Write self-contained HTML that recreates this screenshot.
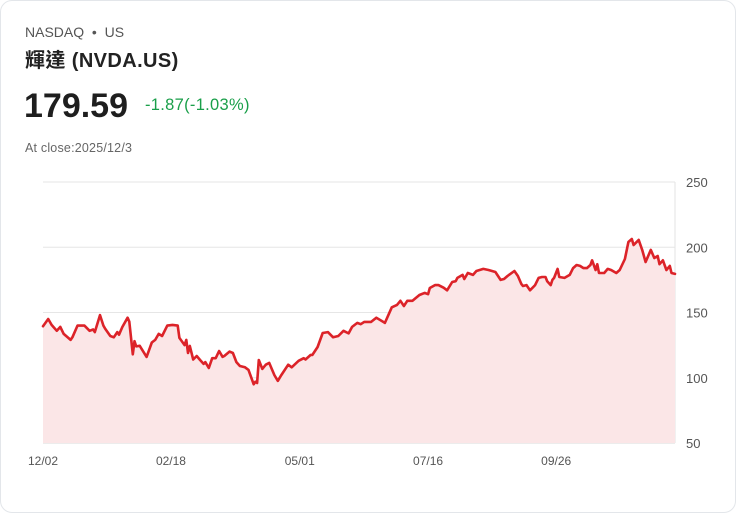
<!DOCTYPE html>
<html><head><meta charset="utf-8"><style>
*{margin:0;padding:0;box-sizing:border-box}
body{width:736px;height:513px;background:#fff;font-family:"Liberation Sans","Noto Sans CJK TC",sans-serif;position:relative;overflow:hidden}
.card{position:absolute;left:0;top:0;width:736px;height:513px;border:1px solid #e3e6ea;border-radius:12px}
.t{position:absolute;white-space:nowrap}
</style></head><body>
<div class="card"></div>
<div class="t" style="left:25px;top:24px;font-size:14px;color:#555">NASDAQ &nbsp;•&nbsp; US</div>
<div class="t" style="left:25px;top:44px;font-size:20px;font-weight:bold;color:#222;letter-spacing:0.4px">輝達 (NVDA.US)</div>
<div class="t" style="left:24px;top:87px;font-size:34px;font-weight:bold;color:#1e1e1e">179.59</div>
<div class="t" style="left:145px;top:96px;font-size:16.5px;color:#1a9f4a;letter-spacing:0.3px">-1.87(-1.03%)</div>
<div class="t" style="left:25px;top:141px;font-size:12.5px;color:#666;letter-spacing:0.2px">At close:2025/12/3</div>
<svg id="chart" width="736" height="513" style="position:absolute;left:0;top:0"></svg>
<script>
const days=[0,3,5,8,10,12,16,17,20,24,27,29,30,33,35,36,39,41,43,44,46,49,50,52,53,54,56,60,63,65,67,69,72,75,78,79,82,83,84,85,87,89,91,93,94,96,98,100,102,104,105,108,110,112,114,117,119,122,123,124,125,127,129,131,134,136,138,142,144,148,151,152,155,156,159,162,165,168,171,174,177,179,182,184,186,190,193,198,202,205,207,209,211,214,218,221,223,224,227,229,232,234,237,239,240,243,244,246,249,251,255,258,260,262,265,267,269,273,275,277,278,280,282,285,287,289,291,292,294,295,296,298,299,302,305,307,309,311,313,315,317,318,320,321,322,325,327,329,332,334,337,339,341,342,345,347,349,352,354,356,357,359,361,363,364,366];
const prices=[139.5,145,140.5,136,139,133.6,129,131,140,140,136,137,135,148,140,137.5,132,131,135,133,139,146,143,118,128,124,124.5,116,127,129,133.6,132,140,140.5,140,130.5,125,129,119,124.4,114,116.7,113.6,110.6,112,107.5,115,115,120.5,116,116.7,120,119,112,109,108,106,95,97,96,113.6,106.8,110,111.4,102,97.6,102,110,108,113,115,114,117.5,117.5,123.6,134.3,135,131,132,136,134,139,142,141,142.8,142.8,146,142,154,155.8,159,155,159,159,163.4,165,164,168.8,171,171,169,167,173.4,174,176.5,178.8,175.7,180.3,178.8,181.8,183.4,182.6,181.8,181,175,175.7,178,181.8,178,171.9,170.3,171,167,171,176.5,177.2,177.2,174,171,175,176.5,183.4,177.2,176.5,178.8,184,186.4,185.7,184,184,186.4,190,182.6,187,180.3,180.3,183.4,182.6,180.3,182.6,191,204,206.3,201.7,205.6,198,188.7,198,191.8,193.3,187,190,182.6,185.7,180.3,179.6];
const yTicks=[50,100,150,200,250];
const xTickLabels=['12/02','02/18','05/01','07/16','09/26'];
const xTickDays=[0,74.1,148.7,223,297.2];
const X0=43,X1=675,Y0=443,Y1=182,DMAX=366;
const xs=d=>X0+(d/DMAX)*(X1-X0);
const ys=v=>Y0-(v-50)/200*(Y0-Y1);
const svg=document.getElementById('chart');
const NS='http://www.w3.org/2000/svg';
function mk(t,a){const e=document.createElementNS(NS,t);for(const k in a)e.setAttribute(k,a[k]);svg.appendChild(e);return e;}
yTicks.forEach(v=>{
  const g=mk('line',{x1:X0,x2:X1,y1:ys(v),y2:ys(v),stroke:v===50?'#d8d8d8':'#e6e6e6','stroke-width':1});
  
  
  const t=mk('text',{x:686,y:ys(v)+5,'font-size':13,fill:'#555','font-family':'Liberation Sans, sans-serif'});
  t.textContent=v;
  
  
});
const ax=mk('line',{x1:X1,x2:X1,y1:Y1,y2:Y0,stroke:'#e3e3e3','stroke-width':1});


let d='';
days.forEach((dd,i)=>{d+=(i?'L':'M')+xs(dd).toFixed(1)+','+ys(prices[i]).toFixed(1);});
const area=mk('path',{d:d+'L'+xs(days[days.length-1])+','+Y0+'L'+xs(0)+','+Y0+'Z',fill:'#fbe6e7'});


const line=mk('path',{d:d,fill:'none',stroke:'#dc2329','stroke-width':2.6,'stroke-linejoin':'round','stroke-linecap':'round'});


xTickLabels.forEach((l,i)=>{
  const t=mk('text',{x:xs(xTickDays[i]),y:465,'font-size':12,fill:'#555','text-anchor':'middle','font-family':'Liberation Sans, sans-serif'});
  t.textContent=l;
  
  
});
</script>
</body></html>
